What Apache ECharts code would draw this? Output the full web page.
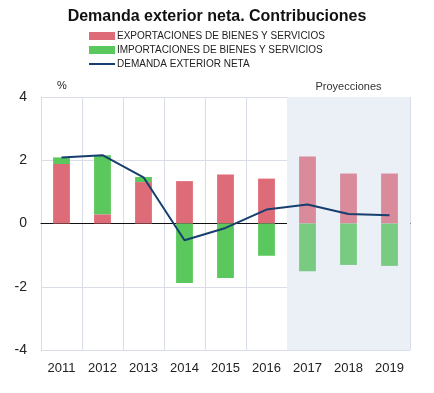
<!DOCTYPE html>
<html><head><meta charset="utf-8">
<script src="https://cdn.jsdelivr.net/npm/echarts@6/dist/echarts.min.js"></script>
<style>html,body{margin:0;padding:0;background:#fff}#c{width:434px;height:393px}</style>
</head><body><div id="c"></div>
<script>
var years = ['2011','2012','2013','2014','2015','2016','2017','2018','2019'];
var exportaciones = [1.88, 0.29, 1.31, 1.34, 1.55, 1.42, 2.12, 1.58, 1.58];
var importaciones = [0.21, 1.87, 0.16, -1.88, -1.72, -1.02, -1.51, -1.31, -1.34];
var demanda = [2.09, 2.16, 1.46, -0.53, -0.14, 0.44, 0.60, 0.30, 0.26];
var projStart = 6; // index of first projected year
var yTicks = [-4, -2, 0, 2, 4];

var redC = '#de6b78', redP = '#d98a9b', greenC = '#5bc85d', greenP = '#79cb82';
function styled(arr, c, p) {
  return arr.map(function (v, i) { return { value: v, itemStyle: { color: i >= projStart ? p : c } }; });
}
var chart = echarts.init(document.getElementById('c'));
chart.setOption({
  animation: false,
  textStyle: { fontFamily: 'Liberation Sans, Arial, sans-serif' },
  title: { text: 'Demanda exterior neta. Contribuciones', left: 'center', top: 4,
    textStyle: { fontSize: 16, fontWeight: 'bold', color: '#111', fontFamily: 'Liberation Sans, Arial, sans-serif' } },
  legend: { orient: 'vertical', left: 89, top: 31, padding: 0, itemWidth: 26, itemHeight: 8, itemGap: 4,
    textStyle: { fontSize: 10, color: '#222', fontFamily: 'Liberation Sans, Arial', padding: [0,0,0,-3] },
    data: [{ name: 'EXPORTACIONES DE BIENES Y SERVICIOS', icon: 'rect' },
           { name: 'IMPORTACIONES DE BIENES Y SERVICIOS', icon: 'rect' },
           { name: 'DEMANDA EXTERIOR NETA', icon: 'path://M0,0 L26,0 L26,2 L0,2 Z' }] },
  grid: { left: 41, right: 24, top: 97, bottom: 43 },
  xAxis: [{ type: 'category', data: years,
    axisLine: { onZero: true, lineStyle: { color: '#111', width: 1 } },
    axisTick: { show: false },
    axisLabel: { fontSize: 13, color: '#222', margin: 12 },
    splitLine: { show: true, lineStyle: { color: '#d9dde8' } } },
    { type: 'value', min: 0, max: years.length, show: false }],
  yAxis: { type: 'value', min: yTicks[0], max: yTicks[yTicks.length - 1], interval: 2,
    axisLine: { show: true, lineStyle: { color: '#d9dde8' } }, axisTick: { show: false },
    axisLabel: { fontSize: 14, color: '#222', margin: 14 },
    splitLine: { lineStyle: { color: '#d9dde8' } } },
  graphic: [{ type: 'text', left: 57, top: 80, style: { text: '%', fontSize: 11, fill: '#222', fontFamily: 'Liberation Sans, Arial' } }],
  series: [
    { type: 'line', xAxisIndex: 1, data: [], silent: true, z: 0,
      markArea: { silent: true, itemStyle: { color: '#ebf0f7' },
        label: { show: true, position: 'top', color: '#333', fontSize: 11, distance: 5, fontFamily: 'Liberation Sans, Arial' },
        data: [[{ name: 'Proyecciones', xAxis: projStart, yAxis: yTicks[0] }, { xAxis: years.length, yAxis: yTicks[yTicks.length - 1] }]] } },
    { name: 'EXPORTACIONES DE BIENES Y SERVICIOS', type: 'bar', stack: 's', barWidth: '41%', itemStyle: { color: redC }, data: styled(exportaciones, redC, redP) },
    { name: 'IMPORTACIONES DE BIENES Y SERVICIOS', type: 'bar', stack: 's', barWidth: '41%', itemStyle: { color: greenC }, data: styled(importaciones, greenC, greenP) },
    { name: 'DEMANDA EXTERIOR NETA', type: 'line', data: demanda, symbol: 'none', z: 5,
      lineStyle: { color: '#173f6e', width: 2 }, itemStyle: { color: '#173f6e' } }
  ]
});
</script></body></html>
